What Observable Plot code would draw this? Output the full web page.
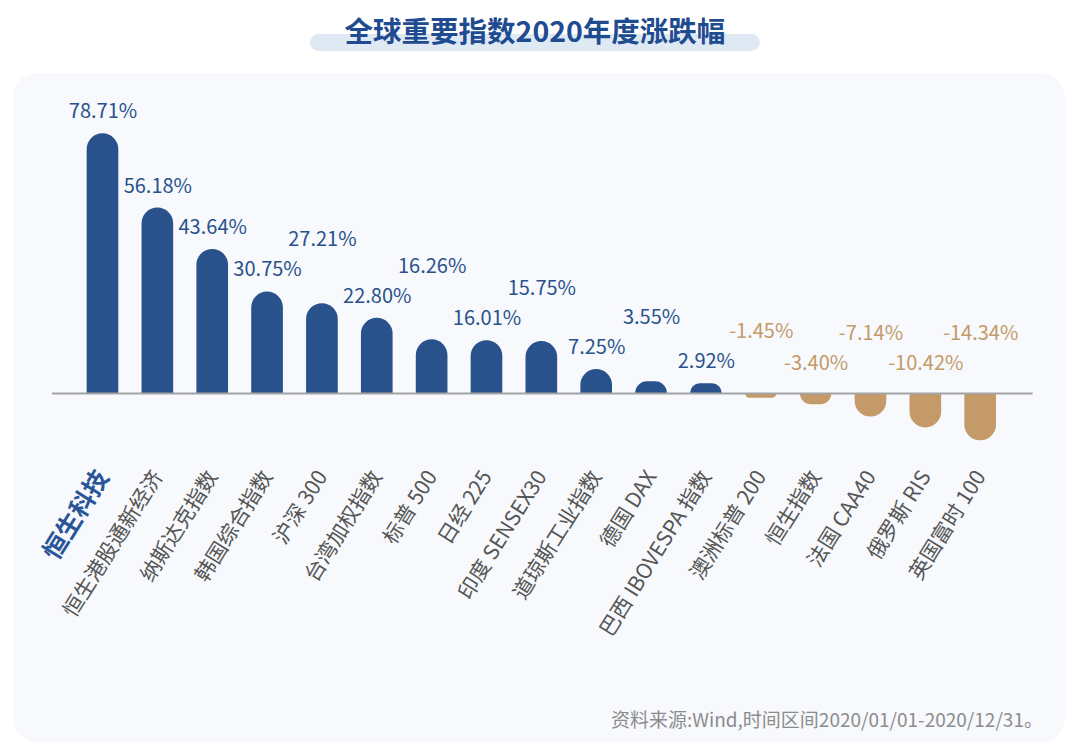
<!DOCTYPE html>
<html><head><meta charset="utf-8">
<script src="https://cdn.jsdelivr.net/npm/d3@7"></script>
<script src="https://cdn.jsdelivr.net/npm/@observablehq/plot@0.6"></script>
<style>
body{margin:0;width:1080px;height:756px;background:#fff;position:relative;overflow:hidden;font-family:"Noto Sans CJK SC","Noto Sans",sans-serif;}
#pill{position:absolute;left:310px;top:34px;width:450px;height:17px;background:#dfe9f4;border-radius:9px;}
#title{position:absolute;left:0;width:1070px;top:10px;text-align:center;font-size:28.5px;font-weight:700;color:#1f4b91;line-height:40px;}
#panel{position:absolute;left:13px;top:73px;width:1052px;height:669px;background:#f7f9fc;border-radius:24px;}
#chart{position:absolute;left:0;top:0;}
#caption{position:absolute;left:611px;top:706px;font-size:19px;line-height:26px;color:#8c8c8c;white-space:nowrap;}
</style></head>
<body>
<div id="pill"></div>
<div id="title">全球重要指数2020年度涨跌幅</div>
<div id="panel"></div>
<div id="chart"></div>
<div id="caption">资料来源:Wind,时间区间2020/01/01-2020/12/31。</div>
<script>
const names = ["恒生科技","恒生港股通新经济","纳斯达克指数","韩国综合指数","沪深 300","台湾加权指数","标普 500","日经 225","印度 SENSEX30","道琼斯工业指数","德国 DAX","巴西 IBOVESPA 指数","澳洲标普 200","恒生指数","法国 CAA40","俄罗斯 RIS","英国富时 100"];
const changes = [78.71,56.18,43.64,30.75,27.21,22.80,16.26,16.01,15.75,7.25,3.55,2.92,-1.45,-3.40,-7.14,-10.42,-14.34];

const BLUE = "#29528c", TAN = "#c49a69";
const k = 3.3, base = 393, yMax = 82, yMin = -21;
const FONT = "'Noto Sans CJK SC', 'Noto Sans', sans-serif";

// value-label placement: just above the bar, staggered when neighbours would collide
let prev = null;
const data = names.map((name, i) => {
  const value = changes[i];
  const topPx = value >= 0 ? value * k : 0;
  let px = topPx + (value >= 0 ? 22 : 30);
  if (prev !== null && Math.abs(px - prev) < 28) {
    const lower = prev - 30;
    px = lower >= topPx + 14 ? lower : prev + 30;
  }
  prev = px;
  return {name, value, labelY: px / k};
});
const pos = data.filter(d => d.value >= 0);
const neg = data.filter(d => d.value < 0);

const inset = {insetLeft: 11.6, insetRight: 11.6};

const chart = Plot.plot({
  width: 1080,
  height: 756,
  marginLeft: 75,
  marginRight: 72.4,
  marginTop: base - yMax * k,
  marginBottom: 756 - (base - yMin * k),
  style: {background: "transparent", fontFamily: FONT},
  x: {domain: names, range: [75.07, 1007.6], padding: 0, round: false},
  y: {domain: [yMin, yMax], axis: null},
  marks: [
    Plot.barY(pos, {x: "name", y1: 0, y2: "value", fill: BLUE, ry1: 16, ...inset}),
    Plot.barY(neg, {x: "name", y1: 0, y2: "value", fill: TAN, ry2: 16, ...inset}),
    Plot.ruleY([0], {stroke: "#a3a3a3", strokeWidth: 2, insetLeft: -23, insetRight: -25}),
    Plot.text(pos, {x: "name", y: "labelY", text: d => d.value.toFixed(2) + "%", lineAnchor: "middle", fill: BLUE, fontSize: 20, fontFamily: FONT}),
    Plot.text(neg, {x: "name", y: "labelY", text: d => d.value.toFixed(2) + "%", lineAnchor: "middle", fill: TAN, fontSize: 20, fontFamily: FONT}),
    Plot.axisX(names.slice(1), {label: null, tickSize: 0, tickPadding: 10, tickRotate: -58, fontSize: 21, fill: "#555555", fontFamily: FONT}),
    Plot.axisX([names[0]], {label: null, tickSize: 0, tickPadding: 10, tickRotate: -58, fontSize: 25, fontWeight: 700, fill: "#2a5599", fontFamily: FONT})
  ]
});
document.getElementById("chart").appendChild(chart);
</script>
</body></html>
